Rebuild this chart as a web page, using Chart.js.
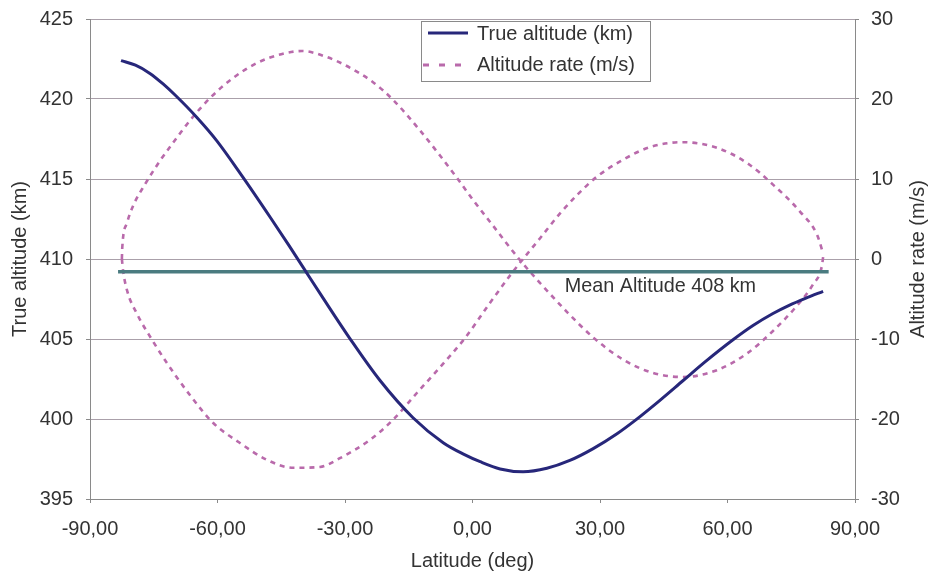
<!DOCTYPE html>
<html>
<head>
<meta charset="utf-8">
<script src="https://cdn.jsdelivr.net/npm/chart.js@4/dist/chart.umd.min.js"></script>
<style>
  html, body { margin: 0; padding: 0; background: #fff; }
  canvas { display: block; }
</style>
</head>
<body>
<canvas id="c" width="930" height="574"></canvas>
<script>
// ---- Data ----
const altLat = [-82.7, -79.3, -75.9, -72.8, -69.8, -64.9, -60.2, -54.2, -47.6, -43.2, -40, -35, -28.8, -21.8, -14, -6.9, -2, 1.8, 6.5, 11.9, 17.5, 22.9, 28.4, 34, 38.2, 44.1, 49.5, 55, 61.3, 66, 70.7, 74.5, 78.7, 82.5];
const altKm  = [422.4, 422.11, 421.6, 420.94, 420.2, 418.86, 417.4, 415.18, 412.61, 410.85, 409.54, 407.49, 405.01, 402.42, 400.08, 398.52, 397.79, 397.33, 396.88, 396.7, 396.92, 397.41, 398.15, 399.08, 399.9, 401.17, 402.39, 403.63, 404.95, 405.84, 406.59, 407.1, 407.58, 407.98];

// altitude rate, first pass (positive on the left)
const rateLatA = [-82.5, -82.4, -81.3, -79.9, -77.1, -73.5, -70.5, -66.5, -61.8, -56.4, -50.7, -45, -40.1, -34.3, -28.8, -23.4, -18.7, -12.4, -7.6, -3.6, 0.1, 5.8, 8.1, 11.9, 15.9, 22.2, 28.4, 35.5, 42.5, 49.5, 57.5, 64.6, 70.7, 76.4, 80.1, 82.2, 82.5];
const rateA    = [0, 1.5, 4.5, 6.6, 9.3, 12.3, 14.5, 17.3, 20.1, 22.6, 24.5, 25.6, 26.0, 25.25, 23.9, 22.1, 19.9, 16.1, 12.9, 10.1, 7.4, 3.5, 1.9, -0.6, -3.0, -6.6, -9.8, -12.6, -14.25, -14.75, -13.9, -11.8, -9.0, -5.8, -3.2, -0.9, 0.25];
// altitude rate, second pass (negative on the left)
const rateLatB = [-82.5, -82.2, -81.3, -79, -75.4, -71.9, -66.5, -61, -54.7, -48.4, -42.2, -35.9, -31.2, -24.1, -18.7, -13.1, -7.6, -1.8, 4.1, 9.5, 15.9, 20.6, 24.6, 29.3, 35.4, 41.8, 49.5, 57.5, 64.6, 70.7, 77.1, 81.1, 82.5];
const rateB    = [0, -1.5, -3.9, -6.8, -10.1, -13, -17, -20.5, -23, -25.1, -26.1, -26, -24.9, -22.6, -20.1, -16.75, -13.5, -9.9, -5.5, -1.6, 2.6, 5.7, 8.0, 10.3, 12.4, 14.0, 14.6, 13.9, 12.0, 9.3, 5.9, 3.0, 0.7];

const meanLat = [-83.4, 83.8];
const meanAlt = [409.2, 409.2];
const meanLabel = "Mean Altitude 408 km";
const meanLabelLat = 21.7;

const xTicks  = [-90, -60, -30, 0, 30, 60, 90];
const yTicks  = [395, 400, 405, 410, 415, 420, 425];
const y1Ticks = [-30, -20, -10, 0, 10, 20, 30];

const seriesNames = ["True altitude (km)", "Altitude rate (m/s)"];
const axisTitles = { x: "Latitude (deg)", y: "True altitude (km)", y1: "Altitude rate (m/s)" };

// ---- Build datasets ----
const altPts = altLat.map((x, i) => ({ x, y: altKm[i] }));
const ratePtsA = rateLatA.map((x, i) => ({ x, y: rateA[i] }));
const ratePtsB = rateLatB.map((x, i) => ({ x, y: rateB[i] }));
const meanPts = meanLat.map((x, i) => ({ x, y: meanAlt[i] }));

const FONT = "'Liberation Sans', Arial, sans-serif";
const TXT = '#333333';
const NAVY = '#27277a';
const PINK = '#b96aab';
const TEAL = '#4a7b80';

const extras = {
  id: 'extras',
  afterDatasetsDraw(chart) {
    const ctx = chart.ctx;
    const xs = chart.scales.x, ys = chart.scales.y;
    ctx.save();
    ctx.font = '19.8px ' + FONT;
    ctx.fillStyle = TXT;
    ctx.textAlign = 'left';
    ctx.textBaseline = 'middle';
    ctx.fillText(meanLabel, xs.getPixelForValue(meanLabelLat), ys.getPixelForValue(meanAlt[0]) + 15);
    ctx.restore();
  },
  afterDraw(chart) {
    const ctx = chart.ctx;
    const ca = chart.chartArea;
    ctx.save();
    ctx.font = '20px ' + FONT;
    ctx.fillStyle = TXT;
    ctx.translate(918, (ca.top + ca.bottom) / 2);
    ctx.rotate(-Math.PI / 2);
    ctx.textAlign = 'center';
    ctx.textBaseline = 'middle';
    ctx.fillText(axisTitles.y1, 0, 0);
    ctx.restore();

    // legend box
    ctx.save();
    ctx.fillStyle = '#ffffff';
    ctx.fillRect(421.5, 21.5, 229, 60);
    ctx.strokeStyle = '#8a8a8a';
    ctx.lineWidth = 1;
    ctx.strokeRect(421.5, 21.5, 229, 60);
    ctx.lineWidth = 3;
    ctx.strokeStyle = NAVY;
    ctx.beginPath(); ctx.moveTo(428, 33); ctx.lineTo(468, 33); ctx.stroke();
    ctx.strokeStyle = PINK;
    ctx.setLineDash([6, 10]);
    ctx.beginPath(); ctx.moveTo(423, 65); ctx.lineTo(462, 65); ctx.stroke();
    ctx.setLineDash([]);
    ctx.font = '20px ' + FONT;
    ctx.fillStyle = TXT;
    ctx.textAlign = 'left';
    ctx.textBaseline = 'middle';
    ctx.fillText(seriesNames[0], 477, 34);
    ctx.fillText(seriesNames[1], 477, 65);
    ctx.restore();
  }
};

const fitV = w => s => { s.width = w; s.paddingTop = 0; s.paddingBottom = 0; };

new Chart(document.getElementById('c'), {
  type: 'scatter',
  data: {
    datasets: [
      { label: seriesNames[0], data: altPts, yAxisID: 'y', showLine: true, borderColor: NAVY, borderWidth: 3, pointRadius: 0, cubicInterpolationMode: 'monotone', order: 0 },
      { label: seriesNames[1], data: ratePtsA, yAxisID: 'y1', showLine: true, borderColor: PINK, borderWidth: 2.6, borderDash: [5, 5], pointRadius: 0, cubicInterpolationMode: 'monotone', order: 2 },
      { label: seriesNames[1] + ' ', data: ratePtsB, yAxisID: 'y1', showLine: true, borderColor: PINK, borderWidth: 2.6, borderDash: [5, 5], pointRadius: 0, cubicInterpolationMode: 'monotone', order: 3 },
      { label: 'mean', data: meanPts, yAxisID: 'y', showLine: true, borderColor: TEAL, borderWidth: 3.5, pointRadius: 0, order: 1 }
    ]
  },
  options: {
    responsive: false,
    devicePixelRatio: 1,
    animation: false,
    layout: { padding: { top: 19, left: 0, right: 0, bottom: 0 } },
    plugins: { legend: { display: false }, tooltip: { enabled: false } },
    scales: {
      x: {
        type: 'linear', min: -90, max: 90,
        afterBuildTicks: s => { s.ticks = xTicks.map(v => ({ value: v })); },
        afterFit: s => { s.height = 75; },
        grid: { drawOnChartArea: false, tickLength: 4, tickColor: '#8a8a8a' },
        border: { color: '#8a8a8a' },
        ticks: { padding: 14, color: TXT, font: { family: FONT, size: 20 }, maxRotation: 0,
                 callback: v => v.toFixed(2).replace('.', ',') },
        title: { display: true, text: axisTitles.x, color: TXT, font: { family: FONT, size: 20 }, padding: { top: 0, bottom: 1 } }
      },
      y: {
        type: 'linear', position: 'left', min: 395, max: 425,
        afterBuildTicks: s => { s.ticks = yTicks.map(v => ({ value: v })); },
        afterFit: fitV(90),
        grid: { color: '#aaa0aa', lineWidth: 1, tickLength: 4, tickColor: '#8a8a8a' },
        border: { color: '#8a8a8a' },
        ticks: { padding: 13, color: TXT, font: { family: FONT, size: 20 } },
        title: { display: true, text: axisTitles.y, color: TXT, font: { family: FONT, size: 20 }, padding: { top: 8, bottom: 0 } }
      },
      y1: {
        type: 'linear', position: 'right', min: -30, max: 30,
        afterBuildTicks: s => { s.ticks = y1Ticks.map(v => ({ value: v })); },
        afterFit: fitV(75),
        grid: { drawOnChartArea: false, tickLength: 4, tickColor: '#8a8a8a' },
        border: { color: '#8a8a8a' },
        ticks: { padding: 12, color: TXT, font: { family: FONT, size: 20 } }
      }
    }
  },
  plugins: [extras]
});
</script>
</body>
</html>
